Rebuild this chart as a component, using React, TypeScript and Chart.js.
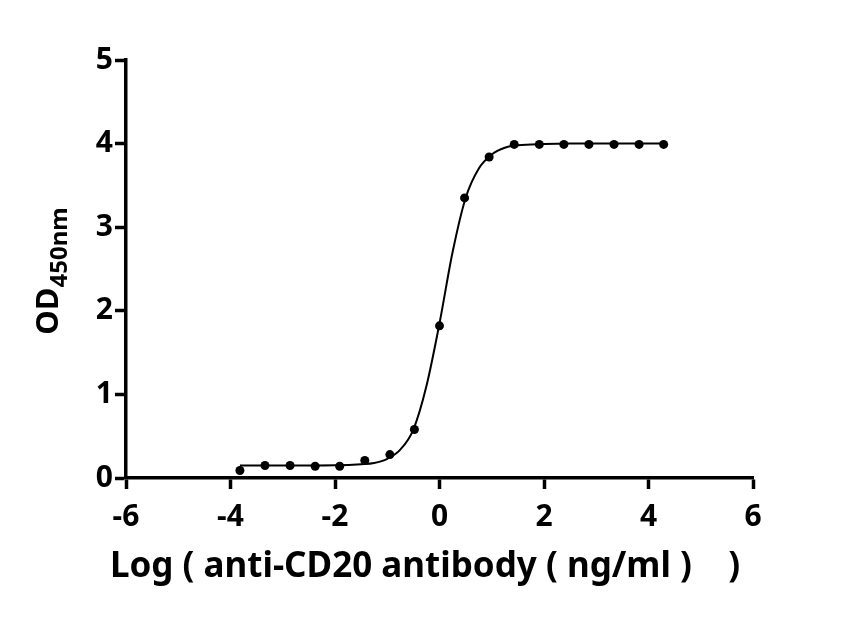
import React, { useRef, useEffect } from 'react';
import { Chart, registerables } from 'chart.js';

Chart.register(...registerables);

// measured points: log concentration vs OD450
const logConc = [-3.82, -3.34, -2.86, -2.38, -1.91, -1.43, -0.95, -0.48, 0.0, 0.48, 0.95, 1.43, 1.91, 2.38, 2.86, 3.34, 3.82, 4.29];
const odValues = [0.09, 0.15, 0.15, 0.14, 0.14, 0.21, 0.28, 0.58, 1.82, 3.35, 3.84, 3.99, 3.99, 3.99, 3.99, 3.99, 3.99, 3.99];

// fitted curve
const curveX = [-3.82, -2.5, -2.0, -1.5, -1.25, -1.0, -0.75, -0.5, -0.25, 0, 0.25, 0.5, 0.75, 1.0, 1.25, 1.5, 2.0, 2.5, 4.29];
const curveY = [0.15, 0.15, 0.152, 0.165, 0.18, 0.23, 0.34, 0.58, 1.1, 1.85, 2.7, 3.35, 3.7, 3.87, 3.95, 3.98, 3.995, 4.0, 4.0];

const xTitle = 'Log ( anti-CD20 antibody ( ng/ml )    )';
const yTitleMain = 'OD';
const yTitleSub = '450nm';

const FONT = '"Noto Sans", "DejaVu Sans", sans-serif';

const axisTitles = {
  id: 'axisTitles',
  afterDraw(chart: Chart) {
    const { ctx, chartArea } = chart;
    ctx.save();
    ctx.fillStyle = '#000';
    ctx.font = `bold 35px ${FONT}`;
    ctx.textAlign = 'center';
    ctx.textBaseline = 'alphabetic';
    ctx.fillText(xTitle, 425, 577);

    // rotated y title with subscript
    const cy = (chartArea.top + chartArea.bottom) / 2 + 2;
    ctx.translate(58, cy);
    ctx.rotate(-Math.PI / 2);
    ctx.font = `bold 31px ${FONT}`;
    const w1 = ctx.measureText(yTitleMain).width;
    ctx.font = `bold 24px ${FONT}`;
    const w2 = ctx.measureText(yTitleSub).width;
    const start = -(w1 + w2) / 2;
    ctx.textAlign = 'left';
    ctx.font = `bold 31px ${FONT}`;
    ctx.fillText(yTitleMain, start, 0);
    ctx.font = `bold 24px ${FONT}`;
    ctx.fillText(yTitleSub, start + w1, 9);
    ctx.restore();
  },
};

const DoseResponseChart: React.FC = () => {
  const chartRef = useRef<HTMLCanvasElement | null>(null);
  const chartInstance = useRef<Chart | null>(null);

  useEffect(() => {
    if (!chartRef.current) return;
    const ctx = chartRef.current.getContext('2d');
    if (!ctx) return;
    if (chartInstance.current) chartInstance.current.destroy();

    const tickFont = { family: FONT, size: 30, weight: 'bold' as const };

    chartInstance.current = new Chart(ctx, {
      type: 'scatter',
      data: {
        datasets: [
          {
            label: 'fit',
            data: curveX.map((x, i) => ({ x, y: curveY[i] })),
            showLine: true,
            borderColor: '#000',
            borderWidth: 2,
            pointRadius: 0,
            cubicInterpolationMode: 'monotone',
          },
          {
            label: 'OD450',
            data: logConc.map((x, i) => ({ x, y: odValues[i] })),
            backgroundColor: '#000',
            borderColor: '#000',
            pointRadius: 4.5,
            borderWidth: 0,
          },
        ],
      },
      options: {
        animation: false,
        responsive: true,
        maintainAspectRatio: false,
        layout: { padding: { left: 0, top: 60, right: 106, bottom: 0 } },
        plugins: {
          legend: { display: false },
          tooltip: { enabled: false },
        },
        scales: {
          x: {
            type: 'linear',
            min: -6,
            max: 6,
            afterFit: (scale) => { scale.height = 141; },
            ticks: { stepSize: 2, color: '#000', font: tickFont, padding: 10, maxRotation: 0 },
            grid: { drawOnChartArea: false, color: '#000', tickLength: 11, tickWidth: 3.5 },
            border: { color: '#000', width: 3.5 },
          },
          y: {
            type: 'linear',
            min: 0,
            max: 5,
            afterFit: (scale) => { scale.width = 126; },
            ticks: { stepSize: 1, color: '#000', font: tickFont, padding: 2 },
            grid: { drawOnChartArea: false, color: '#000', tickLength: 11, tickWidth: 3.5 },
            border: { color: '#000', width: 3.5 },
          },
        },
      },
      plugins: [axisTitles],
    });

    return () => {
      if (chartInstance.current) {
        chartInstance.current.destroy();
        chartInstance.current = null;
      }
    };
  }, []);

  return (
    <div style={{ position: 'absolute', left: 0, top: 0, width: 859, height: 619, background: '#fff' }}>
      <canvas ref={chartRef}></canvas>
    </div>
  );
};

export default function App() {
  return <DoseResponseChart />;
}
